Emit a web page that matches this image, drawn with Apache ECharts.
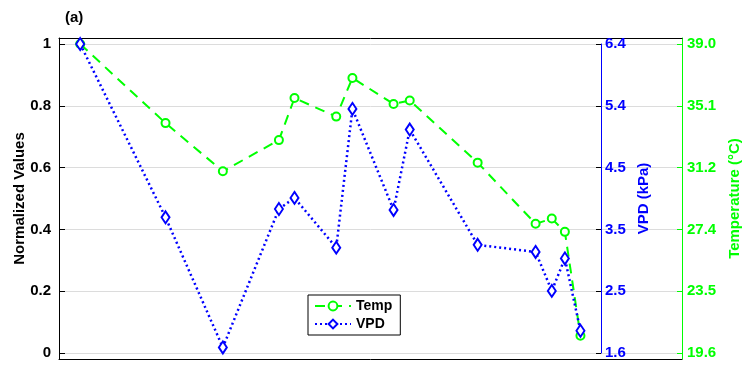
<!DOCTYPE html>
<html>
<head>
<meta charset="utf-8">
<script src="https://cdn.jsdelivr.net/npm/echarts@6/dist/echarts.min.js"></script>
<style>
  * { margin: 0; padding: 0; }
  #chart { width: 745px; height: 370px; background: #fff; }
</style>
</head>
<body>
<div id="chart"></div>
<script>
// sample positions along the (unlabelled) x axis
var xPos = [3.4, 17.1, 26.3, 35.3, 37.8, 44.5, 47.1, 53.7, 56.3, 67.2, 76.5, 79.1, 81.2, 83.7];
// normalized values
var tempNorm = [1.0, 0.744, 0.588, 0.689, 0.825, 0.765, 0.89, 0.806, 0.817, 0.616, 0.418, 0.435, 0.392, 0.056];
var vpdNorm  = [1.0, 0.439, 0.018, 0.466, 0.502, 0.341, 0.79, 0.463, 0.723, 0.35, 0.327, 0.201, 0.306, 0.072];
// right-hand tick labels
var vpdTicks  = ['1.6', '2.5', '3.5', '4.5', '5.4', '6.4'];
var tempTicks = ['19.6', '23.5', '27.4', '31.2', '35.1', '39.0'];

function pairs(xs, ys) {
  return xs.map(function (x, i) { return [x, ys[i]]; });
}
function tickLabel(list) {
  return function (v) { return list[Math.round(v / 0.2)]; };
}

var FONT = 'Liberation Sans';
var chart = echarts.init(document.getElementById('chart'));

// frame axes: plain lines, no ticks or labels
function frameAxis(type, pos, color) {
  return {
    type: 'value', gridIndex: 1, min: 0, max: 1, position: pos,
    axisLine: { show: true, onZero: false, lineStyle: { color: color, width: 1 } },
    axisTick: { show: false }, axisLabel: { show: false }, splitLine: { show: false }
  };
}

var option = {
  backgroundColor: '#fff',
  animation: false,
  title: {
    text: '(a)', left: 60, top: 5,
    textStyle: { fontFamily: FONT, fontSize: 15, fontWeight: 'bold', color: '#000' }
  },
  legend: {
    orient: 'vertical', left: 308, top: 295,
    padding: [4, 8, 4, 6], itemGap: 4,
    itemWidth: 36, itemHeight: 11,
    borderColor: '#000', borderWidth: 1, backgroundColor: '#fff',
    textStyle: { fontFamily: FONT, fontSize: 14, fontWeight: 'bold', color: '#000' },
    data: ['Temp', 'VPD']
  },
  grid: [
    { left: 59, right: 63, top: 44, bottom: 17, outerBoundsMode: 'none', containLabel: false },
    { left: 59, right: 63, top: 38, bottom: 11, outerBoundsMode: 'none', containLabel: false }
  ],
  xAxis: [
    { type: 'value', gridIndex: 0, min: 0, max: 100, show: false },
    frameAxis('value', 'bottom', '#000'),
    frameAxis('value', 'top', '#000')
  ],
  yAxis: [
    {
      type: 'value', gridIndex: 0, min: 0, max: 1, interval: 0.2,
      name: 'Normalized Values', nameLocation: 'middle', nameGap: 32, nameMoveOverlap: false,
      nameTextStyle: { fontFamily: FONT, fontSize: 15, fontWeight: 'bold', color: '#000' },
      axisLine: { show: false },
      axisTick: { show: true, inside: true, length: 6, lineStyle: { color: '#000' } },
      axisLabel: { fontFamily: FONT, fontSize: 15, fontWeight: 'bold', color: '#000', margin: 8 },
      splitLine: { show: true, lineStyle: { color: '#dcdcdc', width: 1 } }
    },
    {
      type: 'value', gridIndex: 0, min: 0, max: 1, interval: 0.2, position: 'right', offset: -81,
      name: 'VPD (kPa)', nameLocation: 'middle', nameGap: 35, nameRotate: 90,
      nameTextStyle: { fontFamily: FONT, fontSize: 15, fontWeight: 'bold', color: '#0000ff' },
      axisLine: { show: true, lineStyle: { color: '#0000ff' } },
      axisTick: { show: true, inside: true, length: 5, lineStyle: { color: '#000' } },
      axisLabel: { fontFamily: FONT, fontSize: 15, fontWeight: 'bold', color: '#0000ff', margin: 4, formatter: tickLabel(vpdTicks) },
      splitLine: { show: false }
    },
    {
      type: 'value', gridIndex: 0, min: 0, max: 1, interval: 0.2, position: 'right',
      name: 'Temperature (°C)', nameLocation: 'middle', nameGap: 45, nameRotate: 90,
      nameTextStyle: { fontFamily: FONT, fontSize: 15, fontWeight: 'bold', color: '#00ff00' },
      axisLine: { show: false },
      axisTick: { show: true, inside: true, length: 5, lineStyle: { color: '#00ff00' } },
      axisLabel: { fontFamily: FONT, fontSize: 15, fontWeight: 'bold', color: '#00ff00', margin: 5, formatter: tickLabel(tempTicks) },
      splitLine: { show: false }
    },
    frameAxis('value', 'left', '#000'),
    frameAxis('value', 'right', '#00ff00')
  ],
  series: [
    {
      name: 'Temp', type: 'line', xAxisIndex: 0, yAxisIndex: 0,
      data: pairs(xPos, tempNorm),
      color: '#00ff00',
      symbol: 'emptyCircle', symbolSize: 8,
      itemStyle: { borderWidth: 2 },
      lineStyle: { type: [10, 7], width: 2 }
    },
    {
      name: 'VPD', type: 'line', xAxisIndex: 0, yAxisIndex: 0,
      data: pairs(xPos, vpdNorm),
      color: '#0000ff',
      symbol: 'emptyDiamond', symbolSize: [8, 12],
      itemStyle: { borderWidth: 2 },
      lineStyle: { type: [2, 3], width: 2.5 }
    }
  ]
};

chart.setOption(option);
</script>
</body>
</html>
